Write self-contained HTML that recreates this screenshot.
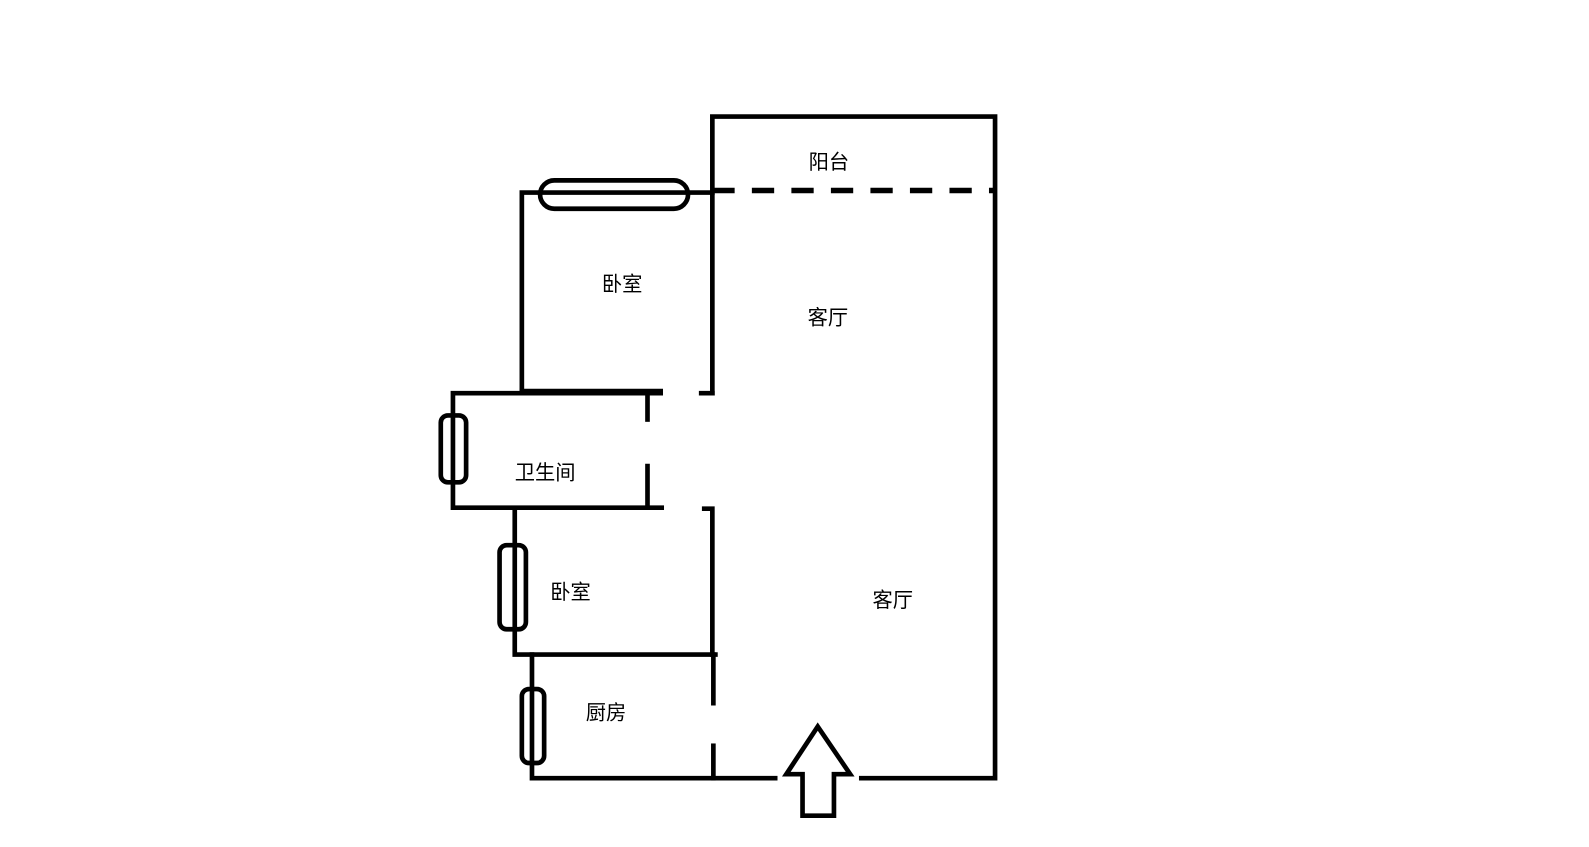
<!DOCTYPE html>
<html><head><meta charset="utf-8"><style>
html,body{margin:0;padding:0;background:#fff;}
svg text{font-family:"Liberation Sans","Noto Sans CJK SC",sans-serif;font-size:20px;fill:#000;}
</style></head><body>
<svg width="1589" height="842" viewBox="0 0 1589 842" xmlns="http://www.w3.org/2000/svg">
<g transform="scale(1.0133)">
<g stroke="#000" stroke-width="4.6" fill="none" stroke-linecap="square">
<polyline points="703,388 703,115 982,115 982,768 850,768"/>
<line x1="703" y1="188" x2="982" y2="188" stroke-dasharray="22 17" stroke-width="5.5" stroke-linecap="butt"/>
<polyline points="515,386 515,190 703,190"/>
<rect x="533" y="178" width="146" height="28" rx="14"/>
<line x1="515" y1="386" x2="652" y2="386"/>
<line x1="692" y1="388" x2="703" y2="388"/>
<polyline points="652,388 447,388 447,501 653,501"/>
<line x1="639" y1="390" x2="639" y2="414"/>
<line x1="639" y1="460" x2="639" y2="499"/>
<rect x="435" y="410" width="25" height="66" rx="7"/>
<polyline points="695,502 703,502 703,646"/>
<polyline points="508,503 508,646 706,646"/>
<rect x="493" y="538" width="26" height="83" rx="7"/>
<polyline points="525,646 525,768 765,768"/>
<line x1="704" y1="646" x2="704" y2="694"/>
<line x1="704" y1="736" x2="704" y2="768"/>
<rect x="515" y="680" width="22" height="73" rx="7"/>
<polygon points="807,717 776,764 792,764 792,805 823,805 823,764 839,764" stroke-linejoin="miter"/>
</g>
<text x="818" y="167" text-anchor="middle">阳台</text>
<text x="614" y="287" text-anchor="middle">卧室</text>
<text x="817" y="320" text-anchor="middle">客厅</text>
<text x="538" y="473" text-anchor="middle">卫生间</text>
<text x="563" y="591" text-anchor="middle">卧室</text>
<text x="881" y="599" text-anchor="middle">客厅</text>
<text x="598" y="710" text-anchor="middle">厨房</text>
</g>
</svg>
</body></html>
